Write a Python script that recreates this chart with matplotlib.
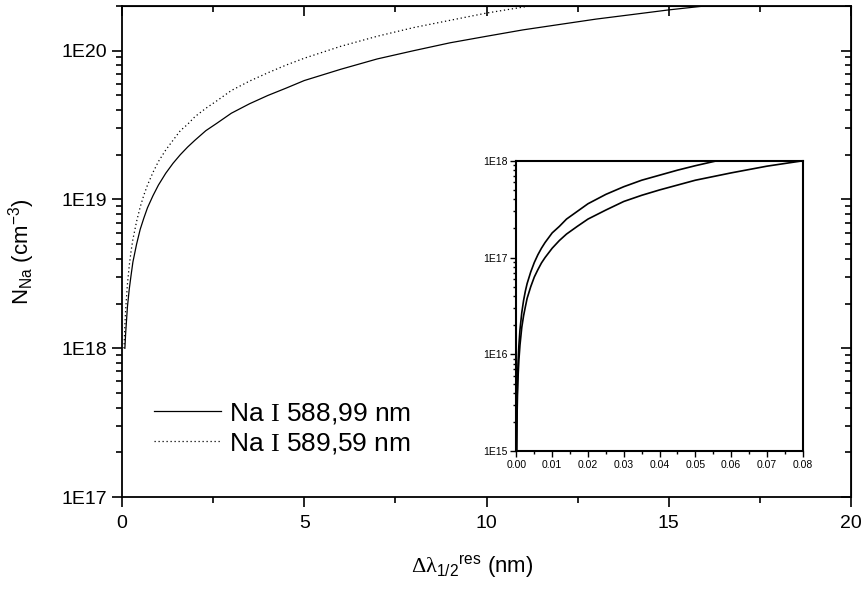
import numpy as np
import matplotlib
matplotlib.use("Agg")
import matplotlib.pyplot as plt
from matplotlib.ticker import FuncFormatter, MultipleLocator, NullFormatter, LogLocator

plt.rcParams['font.family'] = ['Liberation Sans', 'DejaVu Sans']
plt.rcParams['mathtext.fontset'] = 'custom'
plt.rcParams['mathtext.rm'] = 'Liberation Sans'
plt.rcParams['mathtext.it'] = 'Liberation Sans:italic'
plt.rcParams['mathtext.cal'] = 'Liberation Serif'

# main panel: Na I 588,99 nm (solid) and Na I 589,59 nm (dotted)
dl_588 = [0.08, 0.1, 0.15, 0.2, 0.25, 0.3, 0.4, 0.5, 0.6, 0.7, 0.85, 1.0, 1.2, 1.4,
          1.6, 1.8, 2.0, 2.3, 2.6, 3.0, 3.5, 4.0, 4.5, 5.0, 6.0, 7.0, 8.0, 9.0,
          10.0, 11.0, 12.0, 13.0, 14.0, 15.0, 16.0]
n_588 = [1.0e18, 1.25e18, 1.9e18, 2.5e18, 3.1e18, 3.8e18, 5.0e18, 6.3e18, 7.5e18,
         8.8e18, 1.06e19, 1.25e19, 1.5e19, 1.75e19, 2.0e19, 2.25e19, 2.5e19, 2.9e19,
         3.25e19, 3.8e19, 4.4e19, 5.0e19, 5.6e19, 6.3e19, 7.5e19, 8.8e19, 1.0e20,
         1.13e20, 1.25e20, 1.38e20, 1.5e20, 1.63e20, 1.75e20, 1.88e20, 2.0e20]

dl_589 = [0.056, 0.08, 0.1, 0.15, 0.2, 0.25, 0.3, 0.4, 0.5, 0.6, 0.7, 0.85, 1.0, 1.2,
          1.4, 1.6, 1.8, 2.0, 2.3, 2.6, 3.0, 3.5, 4.0, 4.5, 5.0, 6.0, 7.0, 8.0, 9.0,
          10.0, 11.2]
n_589 = [1.0e18, 1.43e18, 1.8e18, 2.7e18, 3.6e18, 4.5e18, 5.4e18, 7.1e18, 8.9e18,
         1.07e19, 1.25e19, 1.52e19, 1.8e19, 2.15e19, 2.5e19, 2.9e19, 3.2e19, 3.6e19,
         4.1e19, 4.6e19, 5.4e19, 6.25e19, 7.1e19, 8.0e19, 8.9e19, 1.07e20, 1.25e20,
         1.43e20, 1.6e20, 1.79e20, 2.0e20]

# inset: low-density part
dl_588_in = [0.00008, 0.0001, 0.0002, 0.0003, 0.0004, 0.0005, 0.0007, 0.001, 0.0015,
             0.002, 0.0025, 0.003, 0.004, 0.005, 0.006, 0.007, 0.008, 0.010, 0.012,
             0.014, 0.017, 0.02, 0.025, 0.03, 0.035, 0.04, 0.05, 0.06, 0.07, 0.08]
n_588_in = [1.0e15, 1.25e15, 2.5e15, 3.8e15, 5.0e15, 6.3e15, 8.8e15, 1.25e16, 1.9e16,
            2.5e16, 3.1e16, 3.8e16, 5.0e16, 6.3e16, 7.5e16, 8.8e16, 1.0e17, 1.25e17,
            1.5e17, 1.75e17, 2.1e17, 2.5e17, 3.1e17, 3.8e17, 4.4e17, 5.0e17, 6.3e17,
            7.5e17, 8.8e17, 1.0e18]

dl_589_in = [0.000056, 0.0001, 0.0002, 0.0003, 0.0004, 0.0005, 0.0007, 0.001, 0.0015,
             0.002, 0.0025, 0.003, 0.004, 0.005, 0.006, 0.007, 0.008, 0.010, 0.012,
             0.014, 0.017, 0.02, 0.025, 0.03, 0.035, 0.04, 0.045, 0.05, 0.056]
n_589_in = [1.0e15, 1.8e15, 3.6e15, 5.4e15, 7.1e15, 8.9e15, 1.25e16, 1.8e16, 2.7e16,
            3.6e16, 4.5e16, 5.4e16, 7.1e16, 8.9e16, 1.07e17, 1.25e17, 1.43e17, 1.8e17,
            2.1e17, 2.5e17, 3.0e17, 3.6e17, 4.5e17, 5.4e17, 6.3e17, 7.1e17, 8.0e17,
            8.9e17, 1.0e18]

labels = ['Na $\\mathcal{I}$ 588,99 nm', 'Na $\\mathcal{I}$ 589,59 nm']


def e_fmt(v, pos):
    return '1E%d' % int(round(np.log10(v)))


fig = plt.figure(figsize=(8.65, 5.89), dpi=100)
ax = fig.add_axes([0.141, 0.156, 0.843, 0.834])

ax.plot(dl_588, n_588, color='black', lw=0.9, label=labels[0])
ax.plot(dl_589, n_589, color='black', lw=0.9, linestyle=(0, (1, 2.2)), label=labels[1])

ax.set_yscale('log')
ax.set_xlim(0, 20)
ax.set_ylim(1e17, 2e20)
ax.xaxis.set_major_locator(MultipleLocator(5))
ax.xaxis.set_minor_locator(MultipleLocator(2.5))
ax.yaxis.set_major_formatter(FuncFormatter(e_fmt))
ax.yaxis.set_minor_formatter(NullFormatter())
ax.tick_params(which='both', direction='out', width=1.2, labelsize=14)
ax.tick_params(which='major', length=7)
ax.tick_params(which='minor', length=4)
ax.tick_params(axis='x', which='major', pad=6)
for s in ax.spines.values():
    s.set_linewidth(1.3)

# mirrored ticks pointing inwards on top and right
top = ax.secondary_xaxis('top')
top.xaxis.set_major_locator(MultipleLocator(5))
top.xaxis.set_minor_locator(MultipleLocator(2.5))
top.tick_params(which='both', direction='in', width=1.2, labeltop=False)
top.tick_params(which='major', length=7)
top.tick_params(which='minor', length=4)
right = ax.secondary_yaxis('right')
right.yaxis.set_minor_formatter(NullFormatter())
right.tick_params(which='both', direction='in', width=1.2, labelright=False)
right.tick_params(which='major', length=7)
right.tick_params(which='minor', length=4)

ax.set_xlabel('$\\mathcal{\u0394\u03bb}_{1/2}{}^{\\mathrm{res}}$ (nm)', fontsize=16, labelpad=16)
ax.xaxis.set_label_coords(0.48, -0.115)
ax.set_ylabel('N$_{\\mathrm{Na}}$ (cm$^{\\mathrm{-3}}$)', fontsize=16, labelpad=18)

ax.legend(loc='lower left', bbox_to_anchor=(0.011, 0.035), frameon=False, fontsize=19,
          handlelength=2.55, handletextpad=0.3, labelspacing=0.2)

# inset
axi = fig.add_axes([0.597, 0.234, 0.331, 0.493])
axi.plot(dl_588_in, n_588_in, color='black', lw=1.2)
axi.plot(dl_589_in, n_589_in, color='black', lw=1.2)
axi.set_yscale('log')
axi.set_xlim(0, 0.08)
axi.set_ylim(1e15, 1e18)
axi.xaxis.set_major_locator(MultipleLocator(0.01))
axi.xaxis.set_minor_locator(MultipleLocator(0.005))
axi.xaxis.set_major_formatter(FuncFormatter(lambda v, p: '%.2f' % v))
axi.yaxis.set_major_locator(LogLocator(base=10))
axi.yaxis.set_major_formatter(FuncFormatter(e_fmt))
axi.yaxis.set_minor_formatter(NullFormatter())
axi.tick_params(which='both', direction='out', width=1.0, labelsize=7.5, pad=2)
axi.tick_params(which='major', length=4)
axi.tick_params(which='minor', length=2)
for s in axi.spines.values():
    s.set_linewidth(1.5)

fig.savefig('out.png', dpi=100)
